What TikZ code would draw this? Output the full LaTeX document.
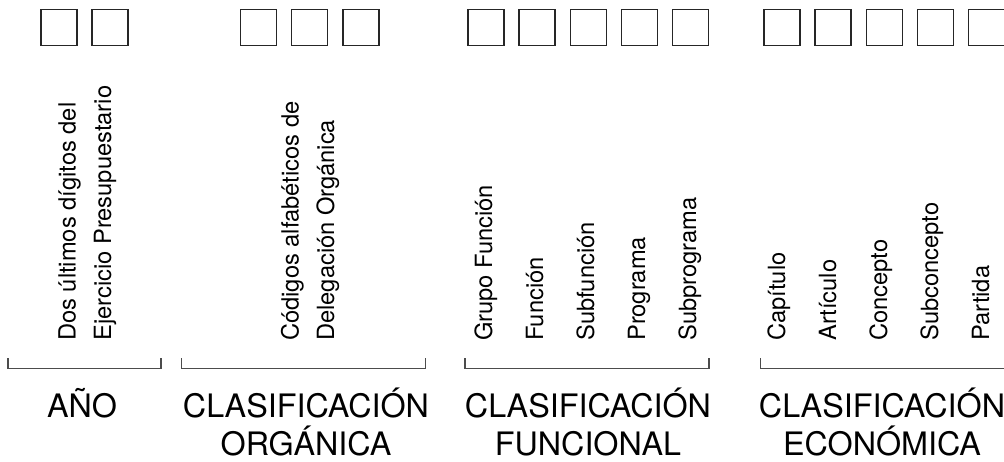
\documentclass[tikz,border=0pt]{standalone}
\usepackage{fontspec}
\setmainfont{TeX Gyre Heros}
\begin{document}
\begin{tikzpicture}[x=1pt,y=-1pt,
  cell/.style={draw=black!85, line width=1.4pt, minimum size=36pt, inner sep=0pt},
  brk/.style={draw=black!70, line width=1.3pt},
  vt/.style={rotate=90, anchor=base west, inner sep=0pt, font=\fontsize{23.7}{28}\selectfont},
  lab/.style={anchor=base, inner sep=0pt, font=\fontsize{32.3}{38}\selectfont}]
\useasboundingbox (0,0) rectangle (1004,462);
% boxes
\node[cell] (a1) at (58.85,27.35) {};
\node[cell] (a2) at (110,27.35) {};
\node[cell] (o1) at (258.35,27.35) {};
\node[cell] (o2) at (309.5,27.35) {};
\node[cell] (o3) at (360.8,27.35) {};
\node[cell] (f1) at (485.8,27.35) {};
\node[cell] (f2) at (537,27.35) {};
\node[cell] (f3) at (588.3,27.35) {};
\node[cell] (f4) at (639.3,27.35) {};
\node[cell] (f5) at (690.5,27.35) {};
\node[cell] (e1) at (781.8,27.35) {};
\node[cell] (e2) at (833,27.35) {};
\node[cell] (e3) at (884.2,27.35) {};
\node[cell] (e4) at (935.2,27.35) {};
\node[cell] (e5) at (986.2,27.35) {};
% vertical texts
\node[vt] (ta1) at (75.5,341) {Dos últimos dígitos del};
\node[vt] (ta2) at (111,341) {Ejercicio Presupuestario};
\node[vt] (to1) at (298.5,341) {Códigos alfabéticos de};
\node[vt] (to2) at (334,341) {Delegación Orgánica};
\node[vt] (tf1) at (492,341) {Grupo Función};
\node[vt] (tf2) at (543,341) {Función};
\node[vt] (tf3) at (594,341) {Subfunción};
\node[vt] (tf4) at (645,341) {Programa};
\node[vt] (tf5) at (696,341) {Subprograma};
\node[vt] (te1) at (785,341) {Capítulo};
\node[vt] (te2) at (836,341) {Artículo};
\node[vt] (te3) at (887,341) {Concepto};
\node[vt] (te4) at (938,341) {Subconcepto};
\node[vt] (te5) at (989,341) {Partida};
% brackets
\draw[brk] (8,358) -- (8,368.5) -- (161,368.5) -- (161,358);
\draw[brk] (181.5,358) -- (181.5,368.5) -- (425.5,368.5) -- (425.5,358);
\draw[brk] (465,358) -- (465,368.5) -- (709,368.5) -- (709,358);
\draw[brk] (760.5,358) -- (760.5,368.5) -- (1010,368.5);
% labels
\node[lab] (l1) at (82,417) {AÑO};
\node[lab] (l2a) at (306,417) {CLASIFICACIÓN};
\node[lab] (l2b) at (306,455) {ORGÁNICA};
\node[lab] (l3a) at (588,417) {CLASIFICACIÓN};
\node[lab] (l3b) at (588,455) {FUNCIONAL};
\node[lab] (l4a) at (882,417) {CLASIFICACIÓN};
\node[lab] (l4b) at (882,455) {ECONÓMICA};
\end{tikzpicture}
\end{document}
